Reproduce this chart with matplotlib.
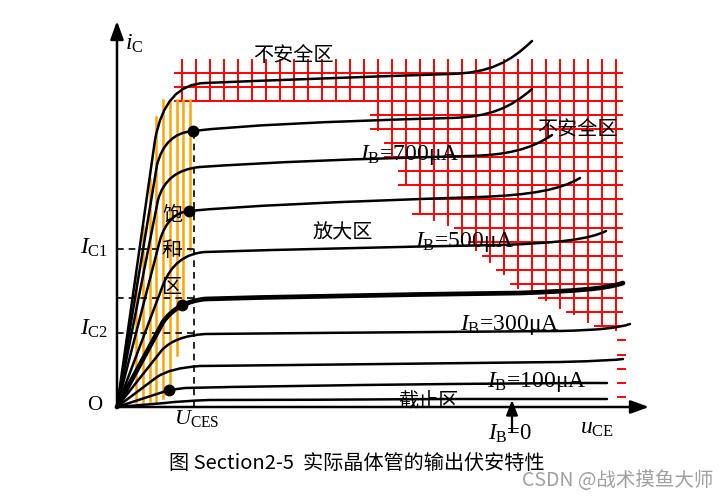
import numpy as np
import matplotlib
matplotlib.use("Agg")
import matplotlib.pyplot as plt
from matplotlib.path import Path
from matplotlib.patches import PathPatch

plt.rcParams['mathtext.fontset'] = 'custom'
plt.rcParams['mathtext.rm'] = 'Liberation Serif'
plt.rcParams['mathtext.it'] = 'Liberation Serif:italic'

# output curves: u_CE / i_C (arbitrary units, origin = O)
# each curve: rise end, knee corner, knee end, mid, flat end, tail ctrl 1, tail ctrl 2, end
curve_pts = [
    [(38, 267), (48, 323), (88, 324), (183, 328), (333, 333), (373, 334), (393, 345), (415, 366)],
    [(40, 242), (48, 274), (76, 276), (143, 284), (333, 289), (373, 290), (393, 299), (415, 318)],
    [(41, 207), (49, 237), (83, 240), (183, 247), (353, 251), (388, 252), (413, 257), (435, 272)],
    [(43, 167), (51, 194), (72, 196), (143, 203), (363, 210), (413, 212), (443, 217), (463, 229)],
    [(46, 122), (58, 153), (88, 155), (213, 159), (383, 162), (443, 164), (473, 168), (489, 176)],
    [(46, 85), (60, 105), (88, 108), (183, 111), (403, 114), (458, 116), (488, 118), (506, 124)],
    [(45, 57), (58, 71), (88, 73), (183, 74), (443, 76), (483, 77), (501, 79), (513, 83)],
    [(40, 30), (53, 39), (83, 41), (183, 42), (443, 45), (483, 46), (498, 47), (506, 48)],
    [(43, 14), (50, 17), (68, 19), (143, 21), (333, 23), (443, 24), (473, 24), (490, 24)],
    [(48, 4), (63, 6), (93, 7), (183, 7), (333, 8), (443, 8), (473, 8), (490, 8)],
]
thick_curve = 5
dots_u = [76, 72, 65, 52]
dots_i = [276, 196, 102, 17]

ib_labels = ['700', '500', '300', '100']
ib_label_u = [243, 298, 343, 370]
ib_label_i = [247, 160, 77, 20]

ic1, ic2, ic_mid = 158, 74, 109
u_ces = 77

# unsafe region (red grid): column bottoms
grid_cols_u = [65 + 14 * k for k in range(32)]
grid_col_bottom = [306] * 14 + [277, 250, 222, 194, 187, 182, 169, 157, 145, 133,
                                119, 113, 107, 99, 93, 85, 81, 77]
grid_rows_i = [334.5 - 14.1 * j for j in range(19)]
grid_top = 347
grid_right = 505
stub_rows_i = [334.5 - 14.1 * j for j in range(19, 24)]

# saturation region (orange hatching)
sat_u = [19 + 6.75 * k for k in range(9)]
sat_top = [134, 181, 228, 290, 307, 307, 307, 307, 307]
sat_bottom = [4, 4, 4, 4, 9, 15, 52, 102, 157]

fig = plt.figure(figsize=(7.28, 4.99), dpi=100)
ax = fig.add_axes([0, 0, 1, 1])
ax.set_xlim(-117, 611)
ax.set_ylim(-92, 407)
ax.axis('off')

red = '#ff0000'
for u, b in zip(grid_cols_u, grid_col_bottom):
    ax.plot([u, u], [grid_top, b], color=red, lw=1.4, zorder=1)
for r in grid_rows_i:
    left = min(u for u, b in zip(grid_cols_u, grid_col_bottom) if b <= r + 1) - 7
    ax.plot([left, grid_right], [r, r], color=red, lw=1.4, zorder=1)
for r in stub_rows_i:
    ax.plot([501, 508], [r, r], color=red, lw=1.4, zorder=1)

for u, t, b in zip(sat_u, sat_top, sat_bottom):
    ax.plot([u, u], [b, t], color='#ffa500', lw=1.8, zorder=1)

# curves
for n, pts in enumerate(curve_pts):
    verts = [(0, 0)] + pts
    codes = [Path.MOVETO, Path.LINETO, Path.CURVE3, Path.CURVE3,
             Path.CURVE3, Path.CURVE3, Path.CURVE4, Path.CURVE4, Path.CURVE4]
    lw = 3.4 if n == thick_curve else 1.8
    ax.add_patch(PathPatch(Path(verts, codes), fill=False, lw=lw,
                           edgecolor='black', capstyle='round', zorder=3))
ax.plot(dots_u, dots_i, 'o', color='black', ms=7.5, zorder=4)

# dashed guides
dash = dict(color='black', lw=1.2, dashes=(4, 3), zorder=2)
ax.plot([0, u_ces], [ic1, ic1], **dash)
ax.plot([0, u_ces], [ic_mid, ic_mid], **dash)
ax.plot([0, u_ces], [ic2, ic2], **dash)
ax.plot([u_ces, u_ces], [0, dots_i[0]], **dash)

# axes with arrows
ax.annotate('', xy=(0, 386), xytext=(0, 0),
            arrowprops=dict(arrowstyle='-|>,head_length=1.1,head_width=0.4',
                            lw=1.8, color='black', shrinkA=0, shrinkB=0), zorder=5)
ax.annotate('', xy=(532, 0), xytext=(-1, 0),
            arrowprops=dict(arrowstyle='-|>,head_length=1.1,head_width=0.4',
                            lw=1.8, color='black', shrinkA=0, shrinkB=0), zorder=5)
ax.annotate('', xy=(395, 7), xytext=(395, -25),
            arrowprops=dict(arrowstyle='-|>,head_length=0.9,head_width=0.35',
                            lw=1.6, color='black', shrinkA=0, shrinkB=0), zorder=5)

serif = 'Liberation Serif'
cjk = ['Noto Sans CJK SC', 'DejaVu Sans']

ax.text(8, 357, r'$i_{\rm C}$', fontsize=17, ha='left', va='baseline')
ax.text(-22, 2, 'O', fontsize=15, family=serif, ha='center', va='center')
ax.text(-9, 160, r'$I_{\rm C1}$', fontsize=17, ha='right', va='center')
ax.text(-9, 79, r'$I_{\rm C2}$', fontsize=17, ha='right', va='center')
ax.text(80, -1, r'$U_{\rm CES}$', fontsize=16, ha='center', va='top')
ax.text(463, -20, r'$u_{\rm CE}$', fontsize=17, ha='left', va='center')
ax.text(371, -33, r'$I_{\rm B}$=0', fontsize=16.5, family=serif, ha='left', va='baseline')

for lab, u, i in zip(ib_labels, ib_label_u, ib_label_i):
    ax.text(u, i, r'$I_{\rm B}$=' + lab + 'μA', fontsize=17, family=serif,
            ha='left', va='baseline', zorder=6)

ax.text(176, 352, '不安全区', fontsize=14.5, family=cjk, ha='center', va='center')
ax.text(460, 278, '不安全区', fontsize=14.5, family=cjk, ha='center', va='center', zorder=6)
ax.text(226, 174, '放大区', fontsize=14.5, family=cjk, ha='center', va='center')
ax.text(311, 5, '截止区', fontsize=14.5, family=cjk, ha='center', va='center', zorder=6)
for ch, i in zip('饱和区', [192, 157, 120]):
    ax.text(55, i, ch, fontsize=14.5, family=cjk, ha='center', va='center', zorder=6)

ax.text(240, -56, '图 Section2-5  实际晶体管的输出伏安特性', fontsize=14.5, family=cjk,
        ha='center', va='center')
ax.text(596, -74, 'CSDN @战术摸鱼大师', fontsize=14, family=cjk, color='#a0a0a0',
        ha='right', va='center')

fig.savefig('out.png', dpi=100)
